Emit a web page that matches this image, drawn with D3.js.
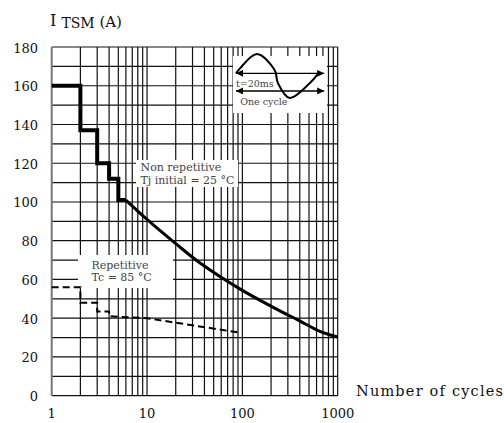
<!DOCTYPE html>
<html>
<head>
<meta charset="utf-8">
<script src="https://cdn.jsdelivr.net/npm/d3@7"></script>
<style>
body { margin: 0; background: #fff; }
text { font-family: "DejaVu Serif", serif; }
</style>
</head>
<body>
<script>
// values
var yLabels = [0, 20, 40, 60, 80, 100, 120, 140, 160, 180];
var xLabels = [1, 10, 100, 1000];

var nonRepStepCycles = [1, 2, 2, 3, 3, 4, 4, 5, 5, 6];
var nonRepStepValues = [160, 160, 137, 137, 120, 120, 112, 112, 101, 101];
var nonRepCurveCycles = [6, 10, 20, 36, 95, 203, 403, 650, 1000];
var nonRepCurveValues = [101, 91, 78.5, 68.5, 55, 46, 38.5, 33.2, 30.3];

var repCycles = [1, 2, 2, 3, 3, 4, 4, 10, 95];
var repValues = [56, 56, 48, 48, 43.5, 43.5, 41, 40, 32.5];

// little "one cycle" sketch, in its own unit box
var waveU = [0, 0.05, 0.25, 0.46, 0.5, 0.64, 0.88, 0.98];
var waveW = [0.12, 0.36, 1, 0.27, -0.33, -1, -0.32, 0.12];

var svg = d3.select("body").append("svg")
    .attr("width", 504)
    .attr("height", 423);

var x = d3.scaleLog().domain([1, 1000]).range([51.7, 337.7]);
var y = d3.scaleLinear().domain([0, 180]).range([395.7, 47]);

// grid
svg.append("g").selectAll("line")
    .data(y.ticks(18))
    .enter().append("line")
    .attr("x1", x(1)).attr("x2", x(1000))
    .attr("y1", function(d) { return y(d); })
    .attr("y2", function(d) { return y(d); })
    .attr("stroke", "#111").attr("stroke-width", 1.2);

svg.append("g").selectAll("line")
    .data(x.ticks())
    .enter().append("line")
    .attr("x1", function(d) { return x(d); })
    .attr("x2", function(d) { return x(d); })
    .attr("y1", y(0)).attr("y2", y(180))
    .attr("stroke", function(d) { return d == 1 ? "#777" : "#111"; })
    .attr("stroke-width", function(d) { return d == 1 ? 2 : 1.2; });

// white label boxes
svg.append("rect").attr("x", 136).attr("y", 160).attr("width", 102).attr("height", 27).attr("fill", "#fff");
svg.append("rect").attr("x", 78).attr("y", 255).attr("width", 95).attr("height", 33).attr("fill", "#fff");
svg.append("rect").attr("x", 233).attr("y", 56).attr("width", 94).attr("height", 57).attr("fill", "#fff");

// curves
var line = d3.line()
    .x(function(d) { return x(d[0]); })
    .y(function(d) { return y(d[1]); });

svg.append("path")
    .attr("d", line(d3.zip(nonRepStepCycles, nonRepStepValues)))
    .attr("fill", "none").attr("stroke", "#000").attr("stroke-width", 4)
    .attr("stroke-linejoin", "miter");

svg.append("path")
    .attr("d", line.curve(d3.curveCatmullRom)(d3.zip(nonRepCurveCycles, nonRepCurveValues)))
    .attr("fill", "none").attr("stroke", "#000").attr("stroke-width", 3);

line.curve(d3.curveLinear);
svg.append("path")
    .attr("d", line(d3.zip(repCycles, repValues)))
    .attr("fill", "none").attr("stroke", "#000").attr("stroke-width", 2)
    .attr("stroke-dasharray", "7,4");

// tick labels
svg.append("g").selectAll("text")
    .data(yLabels)
    .enter().append("text")
    .attr("x", 38)
    .attr("y", function(d) { return y(d) + 5.5; })
    .attr("text-anchor", "end")
    .attr("font-size", 13)
    .attr("fill", "#111")
    .text(function(d) { return d; });

svg.append("g").selectAll("text")
    .data(xLabels)
    .enter().append("text")
    .attr("x", function(d) { return x(d); })
    .attr("y", 418)
    .attr("text-anchor", "middle")
    .attr("font-size", 13)
    .attr("fill", "#111")
    .text(function(d) { return d; });

var title = svg.append("text").attr("x", 50).attr("y", 25.5).attr("fill", "#111");
title.append("tspan").attr("font-size", 16).text("I ");
title.append("tspan").attr("font-size", 14).attr("dy", 2).text("TSM");
title.append("tspan").attr("font-size", 15).attr("dy", -1).text(" (A)");

svg.append("text").attr("x", 356).attr("y", 396)
    .attr("font-size", 14.5).attr("fill", "#111")
    .attr("textLength", 147).attr("lengthAdjust", "spacing")
    .text("Number of cycles");

// annotations
svg.append("text").attr("x", 140.5).attr("y", 170.5)
    .attr("font-size", 11).attr("fill", "#444").text("Non repetitive");
svg.append("text").attr("x", 140.5).attr("y", 184.3)
    .attr("font-size", 11).attr("fill", "#444").text("Tj initial = 25 °C");
svg.append("text").attr("x", 91.5).attr("y", 269.3)
    .attr("font-size", 11).attr("fill", "#444").text("Repetitive");
svg.append("text").attr("x", 91.5).attr("y", 281)
    .attr("font-size", 11).attr("fill", "#444").text("Tc = 85 °C");

// one cycle sketch
var u = d3.scaleLinear().domain([0, 1]).range([236, 320]);
var w = d3.scaleLinear().domain([-1, 1]).range([98, 54]);

var defs = svg.append("defs");
defs.append("marker").attr("id", "arr")
    .attr("viewBox", "0 0 10 10").attr("refX", 10).attr("refY", 5)
    .attr("markerWidth", 7).attr("markerHeight", 7)
    .attr("markerUnits", "userSpaceOnUse")
    .attr("orient", "auto-start-reverse")
  .append("path").attr("d", "M0,0L10,5L0,10Z").attr("fill", "#000");

[0.12, -0.68].forEach(function(lv) {
    svg.append("line")
        .attr("x1", u(0)).attr("x2", u(1.05))
        .attr("y1", w(lv)).attr("y2", w(lv))
        .attr("stroke", "#000").attr("stroke-width", 1.4)
        .attr("marker-start", "url(#arr)")
        .attr("marker-end", "url(#arr)");
});

svg.append("path")
    .attr("d", d3.line()
        .x(function(d) { return u(d[0]); })
        .y(function(d) { return w(d[1]); })
        .curve(d3.curveCatmullRom)(d3.zip(waveU, waveW)))
    .attr("fill", "none").attr("stroke", "#000").attr("stroke-width", 2);

svg.append("text").attr("x", u(0)).attr("y", w(-0.5))
    .attr("font-size", 9.5).attr("fill", "#444").text("t=20ms");
svg.append("text").attr("x", u(0.05)).attr("y", w(-1.3))
    .attr("font-size", 9.5).attr("fill", "#444").text("One cycle");
</script>
</body>
</html>
